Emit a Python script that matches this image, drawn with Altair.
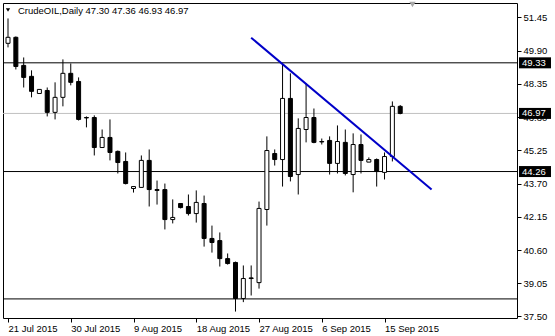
import json
import altair as alt
import pandas as pd

# ---- data ----
bar_index = list(range(51))
opens = [50.24, 50.52, 49.21, 48.70, 47.90, 48.04, 47.02, 47.72, 48.84, 48.46,
         46.78, 46.78, 45.38, 45.85, 45.20, 44.73, 43.47, 43.52, 44.78, 43.42,
         43.42, 42.02, 42.77, 42.63, 42.30, 42.77, 41.14, 41.04, 40.20, 40.02,
         38.34, 39.30, 39.08, 42.49, 45.10, 44.82, 47.67, 44.12, 46.22, 46.78,
         45.66, 45.71, 44.64, 45.62, 44.12, 45.52, 44.70, 44.82, 44.22, 44.96,
         47.30]
highs = [51.40, 50.56, 49.58, 48.98, 48.09, 48.18, 48.42, 49.49, 49.30, 48.65,
         46.83, 46.88, 46.22, 46.69, 45.24, 45.15, 43.56, 45.01, 45.29, 43.84,
         43.70, 42.96, 42.77, 43.19, 43.38, 43.14, 41.74, 41.42, 40.44, 40.06,
         39.88, 39.88, 42.86, 45.90, 45.29, 49.30, 48.84, 46.74, 48.37, 47.20,
         45.80, 45.90, 46.41, 46.22, 46.04, 45.99, 44.92, 44.87, 45.15, 47.53,
         47.36]
lows = [50.05, 49.02, 48.18, 47.72, 47.90, 46.83, 46.69, 47.30, 48.28, 46.64,
        46.32, 45.01, 45.38, 44.78, 44.17, 43.66, 43.28, 43.52, 42.63, 42.72,
        41.56, 41.84, 42.54, 42.21, 41.88, 40.76, 40.48, 39.83, 39.92, 37.73,
        38.17, 38.48, 38.80, 41.74, 44.54, 43.56, 43.80, 43.19, 45.62, 45.58,
        45.52, 44.12, 44.17, 44.08, 43.29, 44.17, 44.70, 43.56, 43.89, 44.73,
        46.93]
closes = [50.52, 49.16, 48.65, 48.00, 48.09, 47.02, 47.72, 48.84, 48.42, 46.69,
          46.76, 45.38, 45.85, 45.15, 44.68, 43.70, 43.56, 44.78, 43.42, 43.38,
          42.02, 42.12, 42.58, 42.30, 42.82, 41.14, 40.95, 40.20, 39.97, 38.34,
          39.27, 39.27, 42.54, 45.24, 44.82, 47.67, 44.03, 46.27, 46.78, 45.62,
          45.64, 44.64, 45.66, 44.17, 45.52, 44.78, 44.82, 44.26, 44.96, 47.30,
          46.97]

x_tick_values = [0, 8, 16, 24, 32, 40, 48]
x_tick_labels = ["21 Jul 2015", "30 Jul 2015", "9 Aug 2015", "18 Aug 2015",
                 "27 Aug 2015", "6 Sep 2015", "15 Sep 2015"]
y_tick_values = [37.50, 39.05, 40.60, 42.15, 43.70, 45.25, 46.80, 48.35, 49.90, 51.45]

level_values = [49.33, 44.26, 38.32]
level_labels = ["49.33", "44.26", ""]
last_price = 46.97

trend_x = [31, 54]
trend_y = [50.50, 43.42]

symbol = "CrudeOIL,Daily"

FONT = "Liberation Sans"

# ---- tables ----
df = pd.DataFrame({"i": bar_index, "o": opens, "h": highs, "l": lows, "c": closes})
df["bull"] = df["c"] >= df["o"]

levels = pd.DataFrame({"v": level_values, "lab": level_labels})
price = pd.DataFrame({"v": [last_price], "lab": [f"{last_price:.2f}"]})
boxes = pd.concat([levels[levels["lab"] != ""], price], ignore_index=True)
trend = pd.DataFrame({"x": trend_x, "y": trend_y})

x_scale = alt.Scale(domain=[0, 64.25], nice=False, zero=False)
y_scale = alt.Scale(domain=[37.43, 52.12], nice=False, zero=False)

label_map = json.dumps({str(v): l for v, l in zip(x_tick_values, x_tick_labels)})

x_axis = alt.Axis(values=x_tick_values, labelExpr=f"{label_map}[''+datum.value]",
                  title=None, grid=False, domain=False, tickColor="black", tickSize=4,
                  labelAlign="left", labelPadding=1, labelFont=FONT, labelFontSize=9.5,
                  labelColor="black", labelFlush=False, labelOverlap=False)
y_axis = alt.Axis(values=y_tick_values, format=".2f", orient="right", title=None,
                  grid=False, domain=False, tickColor="black", tickSize=4,
                  labelPadding=2, labelFont=FONT, labelFontSize=9.5, labelColor="black",
                  labelFlush=False, labelOverlap=False)


def X(field):
    return alt.X(field, scale=x_scale, axis=x_axis)


def Y(field):
    return alt.Y(field, scale=y_scale, axis=y_axis)


base = alt.Chart(df)

wicks = base.mark_rule(color="black", strokeWidth=1, clip=True).encode(
    x=X("i:Q"), y=Y("l:Q"), y2="h:Q",
)

bodies = base.mark_bar(size=4, stroke="black", strokeWidth=1, clip=True).encode(
    x=X("i:Q"), y=Y("o:Q"), y2="c:Q",
    fill=alt.condition("datum.bull", alt.value("white"), alt.value("black")),
)

level_rules = alt.Chart(levels).mark_rule(color="black", strokeWidth=1).encode(
    y=Y("v:Q"),
)

price_rule = alt.Chart(price).mark_rule(color="#C0C0C0", strokeWidth=1).encode(
    y=Y("v:Q"),
)

trend_line = alt.Chart(trend).mark_line(color="#0000C8", strokeWidth=2, clip=True).encode(
    x=X("x:Q"), y=Y("y:Q"),
)

box_rects = alt.Chart(boxes).mark_rect(color="black", yOffset=-5.5, y2Offset=5.5).encode(
    x=alt.value(516), x2=alt.value(548),
    y=Y("v:Q"), y2="v:Q",
)

box_text = alt.Chart(boxes).mark_text(color="white", align="left", baseline="middle",
                                      font=FONT, fontSize=9.5).encode(
    x=alt.value(519), y=Y("v:Q"), text="lab:N",
)

title_str = f"{symbol} {opens[-1]:.2f} {highs[-1]:.2f} {lows[-1]:.2f} {closes[-1]:.2f}"
title_df = pd.DataFrame({"t": [title_str]})
title_text = alt.Chart(title_df).mark_text(
    align="left", baseline="alphabetic", font=FONT, fontSize=9.5, color="black"
).encode(x=alt.value(15), y=alt.value(11), text="t:N")

title_tri = alt.Chart(title_df).mark_point(
    shape="triangle-down", filled=True, color="black", size=18, opacity=1
).encode(x=alt.value(5), y=alt.value(7))

shift_tri = alt.Chart(title_df).mark_point(
    shape="triangle-down", filled=True, color="#A8A8A8", size=40, opacity=1
).encode(x=alt.value(409.5), y=alt.value(1.5))

chart = alt.layer(
    level_rules, price_rule, wicks, bodies, trend_line,
    box_rects, box_text, title_tri, title_text, shift_tri,
).properties(
    width=514, height=315,
    autosize=alt.AutoSizeParams(type="none"),
    padding={"left": 3, "top": 3, "right": 38, "bottom": 18},
    background="white",
).configure_view(stroke="black", strokeWidth=1)

chart.save("out.html", embed_options={"renderer": "svg", "actions": False})
